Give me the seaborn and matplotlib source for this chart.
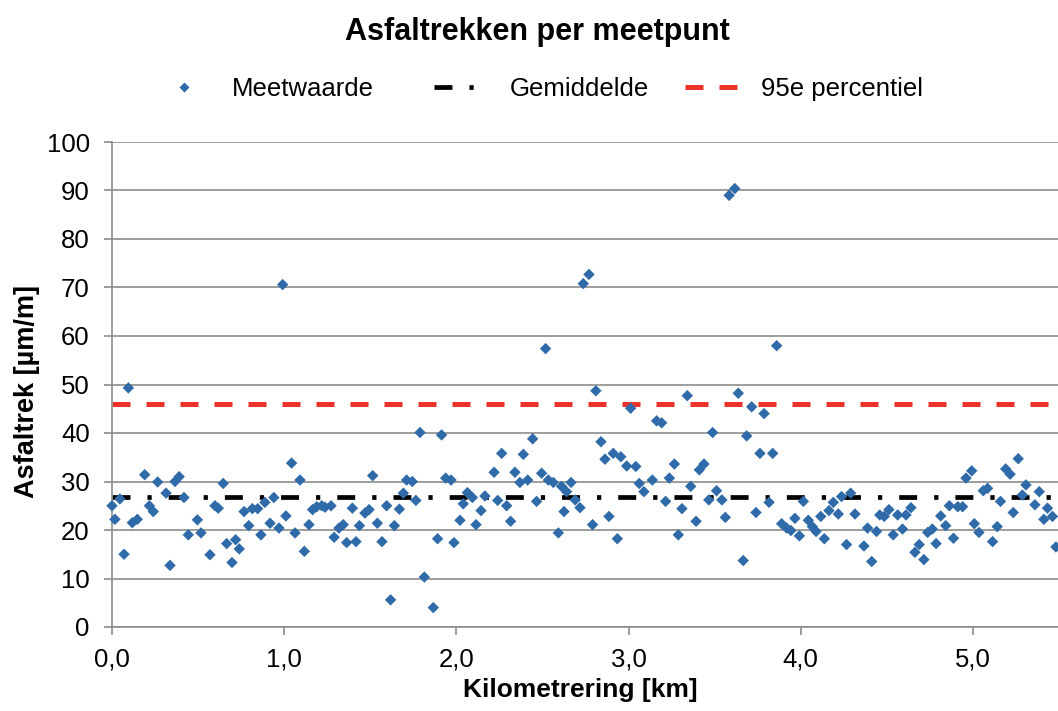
import matplotlib
matplotlib.use("Agg")
import matplotlib.pyplot as plt
from matplotlib.lines import Line2D
import seaborn as sns
import pandas as pd

# Measurement positions along the road [km] and crack values [µm/m]
km = [
    0.000, 0.017, 0.046, 0.070, 0.095, 0.118, 0.147, 0.190, 0.217, 0.240,
    0.265, 0.314, 0.337, 0.366, 0.390, 0.418, 0.443, 0.496, 0.517, 0.569,
    0.598, 0.617, 0.646, 0.666, 0.697, 0.718, 0.739, 0.767, 0.794, 0.815,
    0.846, 0.865, 0.888, 0.918, 0.940, 0.970,
    0.991, 1.010, 1.043, 1.063, 1.092, 1.117, 1.144, 1.165, 1.189, 1.218,
    1.237, 1.272, 1.290, 1.318, 1.343, 1.363, 1.396, 1.417, 1.437, 1.469,
    1.493, 1.514, 1.541, 1.568, 1.595, 1.618, 1.640, 1.669, 1.692, 1.711,
    1.744, 1.765, 1.789, 1.814, 1.866, 1.891, 1.914, 1.938,
    1.969, 1.986, 2.021, 2.040, 2.064, 2.093, 2.114, 2.143, 2.166, 2.219,
    2.240, 2.263, 2.292, 2.315, 2.340, 2.369, 2.389, 2.414, 2.443, 2.466,
    2.495, 2.518, 2.534, 2.563, 2.592, 2.611, 2.625, 2.640, 2.666, 2.690,
    2.718, 2.737, 2.770, 2.791, 2.810, 2.840, 2.863, 2.886, 2.911, 2.935,
    2.955,
    2.989, 3.012, 3.042, 3.062, 3.089, 3.138, 3.163, 3.192, 3.215, 3.237,
    3.266, 3.289, 3.310, 3.341, 3.361, 3.392, 3.411, 3.438, 3.466, 3.488,
    3.511, 3.542, 3.562, 3.584, 3.617, 3.637, 3.666, 3.686, 3.715, 3.740,
    3.763, 3.787, 3.816, 3.837, 3.860, 3.889, 3.918,
    3.943, 3.966, 3.992, 4.015, 4.044, 4.067, 4.089, 4.116, 4.137, 4.164,
    4.189, 4.218, 4.237, 4.266, 4.290, 4.315, 4.367, 4.388, 4.412, 4.440,
    4.459, 4.485, 4.512, 4.537, 4.563, 4.591, 4.611, 4.640, 4.663, 4.688,
    4.715, 4.737, 4.764, 4.786, 4.813, 4.842, 4.863, 4.887, 4.912,
    4.940, 4.960, 4.993, 5.008, 5.035, 5.060, 5.085, 5.114, 5.141, 5.160,
    5.190, 5.216, 5.234, 5.263, 5.287, 5.308, 5.360, 5.385, 5.412, 5.433,
    5.462, 5.482,
]
asfaltrek = [
    25.0, 22.2, 26.4, 15.0, 49.3, 21.5, 22.2, 31.4, 25.0, 23.8,
    29.9, 27.6, 12.7, 30.0, 31.0, 26.7, 19.0, 22.1, 19.4, 14.9,
    25.0, 24.5, 29.6, 17.2, 13.3, 18.0, 16.1, 23.8, 20.9, 24.4,
    24.4, 19.0, 25.7, 21.4, 26.7, 20.4,
    70.6, 22.9, 33.8, 19.4, 30.3, 15.6, 21.1, 24.2, 24.8, 25.0,
    24.7, 25.0, 18.5, 20.4, 21.1, 17.4, 24.5, 17.6, 20.9, 23.5,
    24.2, 31.2, 21.4, 17.6, 25.0, 5.6, 20.9, 24.3, 27.6, 30.3,
    30.0, 26.1, 40.1, 10.3, 4.0, 18.2, 39.6, 30.7,
    30.3, 17.4, 22.0, 25.4, 27.7, 26.7, 21.1, 24.0, 27.0, 31.9,
    26.1, 35.8, 25.0, 21.8, 31.9, 29.8, 35.6, 30.3, 38.8, 25.9,
    31.7, 57.4, 30.3, 29.8, 19.4, 29.0, 23.8, 27.9, 29.8, 26.2,
    24.6, 70.8, 72.7, 21.1, 48.7, 38.2, 34.6, 22.8, 35.8, 18.2,
    35.1,
    33.2, 45.1, 33.1, 29.6, 27.9, 30.3, 42.5, 42.1, 25.9, 30.7,
    33.6, 19.0, 24.4, 47.7, 29.0, 21.8, 32.4, 33.6, 26.2, 40.1,
    28.1, 26.2, 22.6, 89.0, 90.4, 48.2, 13.7, 39.4, 45.4, 23.6,
    35.8, 44.0, 25.7, 35.8, 58.0, 21.3, 20.4,
    19.9, 22.4, 18.8, 25.9, 22.0, 20.7, 19.7, 22.8, 18.2, 24.0,
    25.7, 23.3, 26.9, 17.0, 27.6, 23.3, 16.7, 20.4, 13.5, 19.7,
    23.1, 22.8, 24.2, 19.0, 23.1, 20.2, 23.1, 24.6, 15.4, 17.0,
    13.9, 19.5, 20.2, 17.2, 22.9, 20.9, 25.0, 18.3, 24.8,
    24.8, 30.7, 32.2, 21.3, 19.5, 28.1, 28.6, 17.6, 20.7, 25.9,
    32.6, 31.5, 23.6, 34.7, 27.2, 29.3, 25.2, 27.9, 22.2, 24.5,
    22.8, 16.5,
]

gemiddelde = 26.9      # mean
percentiel_95 = 45.9   # 95th percentile

y_ticks = list(range(0, 101, 10))
x_ticks = [0, 1, 2, 3, 4, 5]
x_ticklabels = ["0,0", "1,0", "2,0", "3,0", "4,0", "5,0"]

df = pd.DataFrame({"km": km, "asfaltrek": asfaltrek})

sns.set_style("white")
plt.rcParams["font.family"] = ["Liberation Sans", "DejaVu Sans"]
plt.rcParams["text.color"] = "black"
plt.rcParams["axes.labelcolor"] = "black"

BLUE = "#2F6BA8"
RED = "#EC3229"
GRID = "#8C8C8C"

W, H = 1058, 711
fig = plt.figure(figsize=(W / 100, H / 100), dpi=100)
ax = fig.add_axes([112 / W, 1 - 627 / H, 1 - 112 / W, (627 - 142) / H])

mean_style = dict(color="black", lw=3.4, linestyle=(0, (3.8, 3.6, 0.9, 3.6)),
                  solid_capstyle="butt", dash_capstyle="butt")
p95_style = dict(color=RED, lw=3.6, linestyle=(0, (3.6, 3.2)),
                 dash_capstyle="butt")

ax.axhline(gemiddelde, zorder=2, **mean_style)
ax.axhline(percentiel_95, zorder=2, **p95_style)

sns.scatterplot(data=df, x="km", y="asfaltrek", ax=ax, marker="D", s=34,
                color=BLUE, edgecolor="none", linewidth=0, zorder=3,
                clip_on=False, legend=False)

ax.set_xlim(0, 5.494)
ax.set_ylim(0, 100)
ax.set_yticks(y_ticks)
ax.set_xticks(x_ticks)
ax.set_xticklabels(x_ticklabels)

ax.yaxis.grid(True, color=GRID, lw=1.2, zorder=0)
ax.set_axisbelow(True)
for side in ("top", "right"):
    ax.spines[side].set_visible(False)
for side in ("left", "bottom"):
    ax.spines[side].set_color(GRID)
    ax.spines[side].set_linewidth(1.2)

ax.tick_params(axis="both", which="major", labelsize=18.5, colors=GRID,
               labelcolor="black", length=6, width=1.2, direction="out")
ax.tick_params(axis="y", left=True, pad=10)
ax.tick_params(axis="x", bottom=True, pad=9)

ax.set_xlabel("Kilometrering [km]", fontsize=19, fontweight="bold",
              color="black")
ax.set_ylabel("Asfaltrek [µm/m]", fontsize=19.5, fontweight="bold",
              color="black")
ax.xaxis.set_label_coords((580 - 112) / 946, -(678 - 627) / 485)
ax.yaxis.set_label_coords(-(112 - 40) / 946, (627 - 391) / 485)

fig.text(537.5 / W, 1 - 40 / H, "Asfaltrekken per meetpunt",
         ha="center", va="baseline", fontsize=22, fontweight="bold",
         color="black")

# Legend entries, placed one by one along the top
legend_y = 1 - 89 / H
entries = [
    (Line2D([], [], ls="none", marker="D", ms=5, color=BLUE, mec="none"),
     "Meetwaarde", 156),
    (Line2D([], [], **mean_style), "Gemiddelde", 434),
    (Line2D([], [], **p95_style), "95e percentiel", 685),
]
for handle, label, x0 in entries:
    leg = fig.legend([handle], [label], loc="center left",
                     bbox_to_anchor=(x0 / W, legend_y), frameon=False,
                     fontsize=18.5, handlelength=2.18, handletextpad=0.78,
                     borderpad=0, borderaxespad=0)
    for t in leg.get_texts():
        t.set_color("black")

fig.savefig("out.png", dpi=100)
